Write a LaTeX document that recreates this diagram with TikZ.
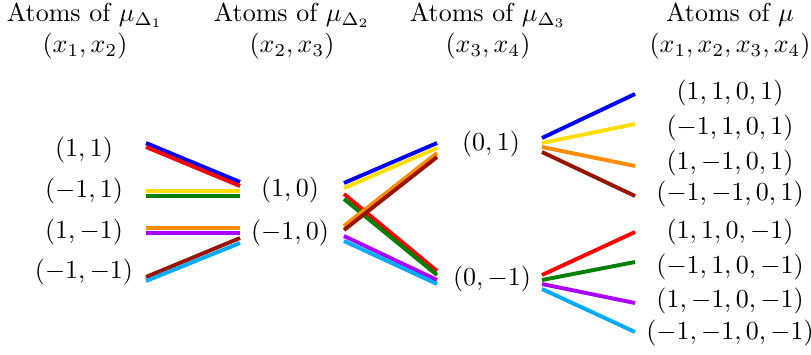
\documentclass[tikz,border=0pt]{standalone}
\usepackage{amsmath,amssymb}
\usetikzlibrary{positioning}
\definecolor{atomyellow}{RGB}{255,221,0}
\definecolor{atomgreen}{RGB}{0,128,0}
\definecolor{atomorange}{RGB}{255,140,0}
\definecolor{atompurple}{RGB}{170,0,255}
\definecolor{atombrown}{RGB}{150,20,0}
\definecolor{atomcyan}{RGB}{0,170,255}
\tikzset{
  head/.style={align=center,anchor=north,inner sep=0pt},
  seg/.style={line width=1.5pt}
}
\begin{document}
\begin{tikzpicture}[x=0.385pt,y=-0.385pt]
            \useasboundingbox (0,0) rectangle (811,354);
            \node[head] (h1) at (85,2) {Atoms of $\mu_{\Delta_1}$\\$(x_1,x_2)$}; %見出し
            \node[head] (h2) at (292,2) {Atoms of $\mu_{\Delta_2}$\\$(x_2,x_3)$};
            \node[head] (h3) at (488,2) {Atoms of $\mu_{\Delta_3}$\\$(x_3,x_4)$};
            \node[head] (h4) at (730,2) {Atoms of $\mu$\\$(x_1,x_2,x_3,x_4)$};
            \node (a1) at (84,150) {$(1,1)$}; %第1列
            \node (a2) at (84,191) {$(-1,1)$};
            \node (a3) at (84,232) {$(1,-1)$};
            \node (a4) at (84,272) {$(-1,-1)$};
            \node (b1) at (290,190) {$(1,0)$}; %第2列
            \node (b2) at (290,233) {$(-1,0)$};
            \node (c1) at (491,144) {$(0,1)$}; %第3列
            \node (c2) at (492,279) {$(0,-1)$};
            \node (d1) at (730,93) {$(1,1,0,1)$}; %第4列
            \node (d2) at (730,128) {$(-1,1,0,1)$};
            \node (d3) at (730,163) {$(1,-1,0,1)$};
            \node (d4) at (730,194) {$(-1,-1,0,1)$};
            \node (d5) at (730,232) {$(1,1,0,-1)$};
            \node (d6) at (730,267) {$(-1,1,0,-1)$};
            \node (d7) at (730,301) {$(1,-1,0,-1)$};
            \node (d8) at (730,333) {$(-1,-1,0,-1)$};
            \foreach \c/\ya/\yb in {blue/143/182,red/147/186,atomyellow/191/191,atomgreen/196/196,
                atomorange/228/228,atompurple/233/233,atombrown/277/238,atomcyan/281/243}
                \draw[seg,\c] (146,\ya) --(240,\yb); %第1列から第2列
            \foreach \c/\ya/\yb in {blue/183/143,atomyellow/188/148,red/194/271,atomgreen/199/275,
                atomorange/226/153,atombrown/230/157,atompurple/236/280,atomcyan/241/284}
                \draw[seg,\c] (344,\ya) --(437,\yb); %第2列から第3列
            \foreach \c/\ya/\yb in {blue/138/94,atomyellow/143/124,atomorange/147/166,atombrown/152/196,
                red/275/232,atomgreen/280/262,atompurple/284/303,atomcyan/289/332}
                \draw[seg,\c] (542,\ya) --(635,\yb); %第3列から第4列
        \end{tikzpicture}
\end{document}
